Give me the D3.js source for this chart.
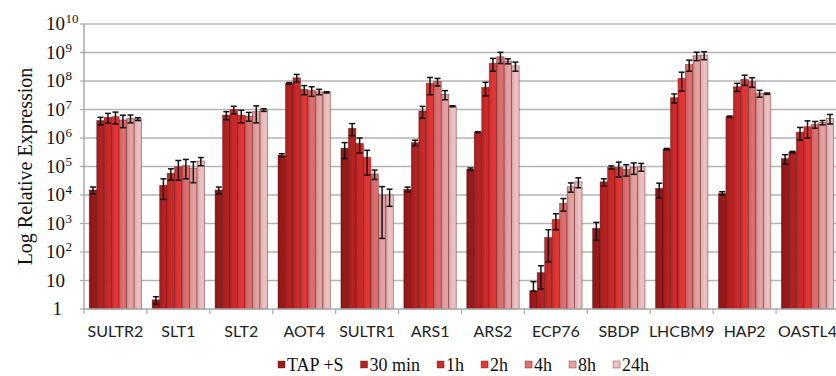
<!DOCTYPE html>
<html>
<head>
<meta charset="utf-8">
<script src="https://cdn.jsdelivr.net/npm/d3@7/dist/d3.min.js"></script>
<style>
  html, body { margin: 0; padding: 0; background: #fff; }
  svg { display: block; }
</style>
</head>
<body>
<svg id="chart" width="836" height="376"></svg>
<script>
// Genes on the x axis
const genes = ["SULTR2", "SLT1", "SLT2", "AOT4", "SULTR1", "ARS1", "ARS2", "ECP76", "SBDP", "LHCBM9", "HAP2", "OASTL4"];
// Time points (series)
const timepoints = ["TAP +S", "30 min", "1h", "2h", "4h", "8h", "24h"];

// Relative expression per time point, one value per gene
const tapS  = [1.5e4, 2.1,    1.5e4, 2.5e5, 4.4e5, 1.6e4, 8.1e4, 4.3,   680,   1.7e4,  1.15e4, 1.9e5];
const min30 = [4.1e6, 2.2e4,  6.4e6, 8.3e7, 2.2e6, 6.9e5, 1.6e6, 19,    2.9e4, 4.1e5,  5.6e6,  3.2e5];
const h1    = [5.3e6, 5.8e4,  1.0e7, 1.3e8, 6.5e5, 8.9e6, 6.0e7, 325,   9.3e4, 2.6e7,  6.3e7,  1.6e6];
const h2    = [5.6e6, 9.8e4,  6.4e6, 5.1e7, 2.1e5, 8.3e7, 4.2e8, 1.4e3, 9.3e4, 1.24e8, 1.15e8, 2.5e6];
const h4    = [4.3e6, 1.07e5, 5.9e6, 4.6e7, 5.5e4, 9.5e7, 7.1e8, 5.1e3, 8.1e4, 3.8e8,  9.5e7,  3.0e6];
const h8    = [4.9e6, 8.7e4,  8.4e6, 4.2e7, 1.0e4, 3.4e7, 5.0e8, 1.95e4,9.3e4, 7.7e8,  3.7e7,  3.5e6];
const h24   = [4.6e6, 1.56e5, 9.6e6, 4.0e7, 1.0e4, 1.3e7, 3.4e8, 2.9e4, 9.8e4, 8.1e8,  3.6e7,  4.9e6];

// Standard errors (same units as the values)
const errTapS  = [4e3,   0.6,  4e3, 3e4,   2.5e5, 3e3,   8e3,   4.8,   420,   9e3,   1.5e3, 7e4];
const errMin30 = [1.2e6, 1.5e4, 2e6, 5e6,  1e6,   1.5e5, 5e4,   14,    8e3,   2e4,   3e5,   2e4];
const errH1    = [2e6,   2.5e4, 3e6, 4e7,  3.5e5, 4e6,   3e7,   280,   1.2e4, 9e6,   2e7,   7.5e5];
const errH2    = [2.5e6, 6.5e4, 3e6, 1.8e7,1.6e5, 5e7,   2e8,   800,   5e4,   8e7,   4.5e7, 1.5e6];
const errH4    = [2e6,   7e4,   2e6, 1.7e7,2e4,   2.8e7, 3e8,   2.4e3, 3.5e4, 1.6e8, 3.5e7, 8e5];
const errH8    = [1.5e6, 6e4,   5e6, 9e6,  9.7e3, 1.2e7, 1e8,   7e3,   4e4,   2.5e8, 1e7,   6e5];
const errH24   = [5e5,   5e4,   1e6, 2e6,  6e3,   5e5,   1.2e8, 1.1e4, 3e4,   2.5e8, 2e6,   1.8e6];

// Y-axis tick values
const yTicks = [1, 10, 1e2, 1e3, 1e4, 1e5, 1e6, 1e7, 1e8, 1e9, 1e10];

const seriesValues = [tapS, min30, h1, h2, h4, h8, h24];
const seriesErrors = [errTapS, errMin30, errH1, errH2, errH4, errH8, errH24];
const colors = ["#9a1a1a", "#b52222", "#cc2a2a", "#e43636", "#de7070", "#e8a2a2", "#f0c2c2"];

const svg = d3.select("#chart");

const x = d3.scaleBand().domain(genes).range([84, 839]).paddingInner(0.167).paddingOuter(0.0835);
const xs = d3.scaleBand().domain(timepoints).range([0, x.bandwidth()]).padding(0);
const y = d3.scaleLog().domain([1, 1e10]).range([309, 24]);

// Gradients for bar shading
const defs = svg.append("defs");
colors.forEach((c, i) => {
  const g = defs.append("linearGradient").attr("id", "grad" + i)
    .attr("x1", "0%").attr("x2", "100%").attr("y1", "0%").attr("y2", "0%");
  const base = d3.color(c);
  g.append("stop").attr("offset", "0%").attr("stop-color", base.darker(0.35));
  g.append("stop").attr("offset", "55%").attr("stop-color", base);
  g.append("stop").attr("offset", "100%").attr("stop-color", base.darker(0.12));
});

// Horizontal gridlines
svg.append("g").selectAll("line").data(yTicks.slice(1)).join("line")
  .attr("x1", 84).attr("x2", 836)
  .attr("y1", d => y(d)).attr("y2", d => y(d))
  .attr("stroke", "#b4b4b4").attr("stroke-width", 1.5);

// Left axis line and ticks
svg.append("line").attr("x1", 84).attr("x2", 84).attr("y1", y(1e10)).attr("y2", y(1))
  .attr("stroke", "#a8a8a8").attr("stroke-width", 1.5);
svg.append("g").selectAll("line").data(yTicks).join("line")
  .attr("x1", 80).attr("x2", 84).attr("y1", d => y(d)).attr("y2", d => y(d))
  .attr("stroke", "#a8a8a8").attr("stroke-width", 1.2);

// Bars
const groups = svg.append("g").selectAll("g").data(genes).join("g")
  .attr("transform", d => `translate(${x(d)},0)`);

groups.each(function (gene, gi) {
  const g = d3.select(this);
  const rows = timepoints.map((t, si) => ({ t, si, v: seriesValues[si][gi], e: seriesErrors[si][gi] }));
  g.selectAll("rect").data(rows).join("rect")
    .attr("x", d => xs(d.t))
    .attr("width", xs.bandwidth())
    .attr("y", d => y(d.v))
    .attr("height", d => y(1) - y(d.v))
    .attr("fill", d => `url(#grad${d.si})`)
    .attr("stroke", "rgba(90,10,10,0.55)")
    .attr("stroke-width", 0.7);

  // Error bars (a lower bound at or below zero is drawn at the bar top)
  const eb = g.selectAll("g.err").data(rows).join("g").attr("class", "err");
  const cx = d => xs(d.t) + xs.bandwidth() / 2;
  const hi = d => y(d.v + d.e);
  const lo = d => y(d.v - d.e > 0 ? Math.max(d.v - d.e, 1) : d.v);
  eb.append("line").attr("x1", cx).attr("x2", cx).attr("y1", hi).attr("y2", lo)
    .attr("stroke", "#111").attr("stroke-width", 1.5);
  eb.append("line").attr("x1", d => cx(d) - 3).attr("x2", d => cx(d) + 3).attr("y1", hi).attr("y2", hi)
    .attr("stroke", "#111").attr("stroke-width", 1.5);
  eb.append("line").attr("x1", d => cx(d) - 3).attr("x2", d => cx(d) + 3).attr("y1", lo).attr("y2", lo)
    .attr("stroke", "#111").attr("stroke-width", 1.5);
});

// Bottom axis
svg.append("line").attr("x1", 84).attr("x2", 836).attr("y1", y(1)).attr("y2", y(1))
  .attr("stroke", "#a8a8a8").attr("stroke-width", 1.5);
const step = x.step();
svg.append("g").selectAll("line").data(d3.range(genes.length + 1)).join("line")
  .attr("x1", i => 84 + i * step).attr("x2", i => 84 + i * step)
  .attr("y1", y(1)).attr("y2", y(1) + 5)
  .attr("stroke", "#a8a8a8").attr("stroke-width", 1.2);

svg.append("g").selectAll("text").data(genes).join("text")
  .attr("x", d => x(d) + x.bandwidth() / 2)
  .attr("y", 337)
  .attr("text-anchor", "middle")
  .attr("font-family", "Lato, 'Open Sans', sans-serif")
  .attr("font-size", 16)
  .attr("fill", "#222")
  .text(d => d);

// Y tick labels: 1, 10, then 10 with superscript exponent
const yl = svg.append("g").attr("font-family", "'Liberation Serif', 'DejaVu Serif', serif").attr("fill", "#111");
yTicks.forEach(v => {
  const exp = Math.round(Math.log10(v));
  const yy = y(v) + 6;
  if (exp === 0) {
    yl.append("text").attr("x", 62).attr("y", yy).attr("text-anchor", "end").attr("font-size", 19).text("1");
  } else {
    yl.append("text").attr("x", 65).attr("y", yy).attr("text-anchor", "end").attr("font-size", 19).text("10");
    if (exp > 1) {
      yl.append("text").attr("x", 65.5).attr("y", yy - 7).attr("text-anchor", "start").attr("font-size", 13).text(String(exp));
    }
  }
});

// Y axis title
svg.append("text")
  .attr("transform", `translate(32,${(y(1) + y(1e10)) / 2}) rotate(-90)`)
  .attr("text-anchor", "middle")
  .attr("font-family", "'Liberation Serif', 'DejaVu Serif', serif")
  .attr("font-size", 20)
  .attr("fill", "#111")
  .text("Log Relative Expression");

// Legend
const legend = svg.append("g").attr("font-family", "'Liberation Serif', 'DejaVu Serif', serif");
let lx = 278;
timepoints.forEach((t, i) => {
  legend.append("rect").attr("x", lx).attr("y", 361).attr("width", 7).attr("height", 7)
    .attr("fill", colors[i]).attr("stroke", "rgba(90,10,10,0.6)").attr("stroke-width", 0.6);
  const txt = legend.append("text").attr("x", lx + 9).attr("y", 371).attr("font-size", 18).attr("fill", "#111").text(t);
  lx += 9 + txt.node().getComputedTextLength() + 17;
});
</script>
</body>
</html>
